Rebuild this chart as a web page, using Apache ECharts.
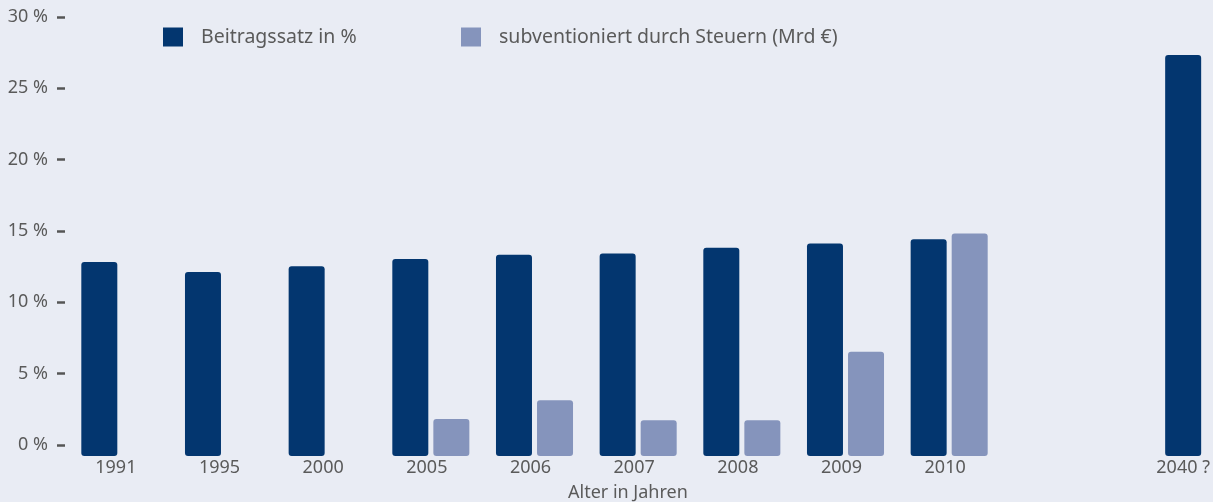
<!DOCTYPE html>
<html>
<head>
<meta charset="utf-8">
<script src="https://cdn.jsdelivr.net/npm/echarts@6/dist/echarts.min.js"></script>
<style>
  html, body { margin: 0; padding: 0; background: #e9ecf4; }
  #chart { width: 1213px; height: 502px; }
</style>
</head>
<body>
<div id="chart"></div>
<script>
// Daten
const categories = ['1991', '1995', '2000', '2005', '2006', '2007', '2008', '2009', '2010']
const beitragssatz = [13.6, 12.9, 13.3, 13.8, 14.1, 14.2, 14.6, 14.9, 15.2]
const subventioniert = [null, null, null, 2.6, 3.9, 2.5, 2.5, 7.3, 15.6]
const categories2040 = ['2040 ?']
const beitragssatz2040 = [28.1]
const yTicks = [0, 5, 10, 15, 20, 25, 30]

const dark = '#03366f'
const light = '#8594bc'
const textColor = '#5a5a5a'
const font = '"Noto Sans", sans-serif'

const myChart = echarts.init(document.getElementById('chart'))

const legendStyle = {
  top: 27,
  padding: 0,
  itemWidth: 20,
  itemHeight: 19,
  icon: 'rect',
  textStyle: { color: textColor, fontSize: 19.5, padding: [0, 0, 0, 13] }
}

const option = {
  backgroundColor: '#e9ecf4',
  textStyle: { fontFamily: font },
  title: {
    text: 'Alter in Jahren',
    left: 568,
    top: 484,
    padding: 0,
    textStyle: { color: textColor, fontSize: 18, fontWeight: 'normal', fontFamily: font }
  },
  legend: [
    Object.assign({ data: ['Beitragssatz in %'], left: 163 }, legendStyle),
    Object.assign({ data: ['subventioniert durch Steuern (Mrd €)'], left: 461 }, legendStyle)
  ],
  grid: [
    { left: 68, top: 17, width: 933, height: 428 },
    { left: 1160, top: 17, width: 50, height: 428 }
  ],
  xAxis: [{
    type: 'category',
    gridIndex: 0,
    data: categories,
    axisLine: { show: false },
    axisTick: { show: false },
    axisLabel: { color: textColor, fontSize: 18, margin: 14, padding: [0, 8, 0, 0] }
  }, {
    type: 'category',
    gridIndex: 1,
    data: categories2040,
    axisLine: { show: false },
    axisTick: { show: false },
    axisLabel: { color: textColor, fontSize: 18, margin: 14 }
  }],
  yAxis: [{
    // sichtbare Skala
    type: 'value',
    gridIndex: 0,
    min: yTicks[0],
    max: yTicks[yTicks.length - 1],
    interval: 5,
    offset: 3,
    axisLine: { show: false },
    axisTick: { show: true, length: 8, lineStyle: { color: '#555', width: 2.5 } },
    axisLabel: { color: textColor, fontSize: 18, margin: 17, formatter: '{value} %' },
    splitLine: { show: false }
  }, {
    // Skala der Balken (Nullpunkt liegt etwas unter der 0 %-Marke)
    type: 'value',
    gridIndex: 0,
    min: 0.77,
    max: 30.77,
    show: false
  }, {
    type: 'value',
    gridIndex: 1,
    min: 0.77,
    max: 30.77,
    show: false
  }],
  series: [{
    name: 'Beitragssatz in %',
    type: 'bar',
    xAxisIndex: 0,
    yAxisIndex: 1,
    data: beitragssatz,
    barWidth: 36,
    barGap: '14%',
    clip: false,
    itemStyle: { color: dark, borderRadius: 3 }
  }, {
    name: 'subventioniert durch Steuern (Mrd €)',
    type: 'bar',
    xAxisIndex: 0,
    yAxisIndex: 1,
    data: subventioniert,
    barWidth: 36,
    barGap: '14%',
    clip: false,
    itemStyle: { color: light, borderRadius: 3 }
  }, {
    name: 'Beitragssatz in %',
    type: 'bar',
    xAxisIndex: 1,
    yAxisIndex: 2,
    data: beitragssatz2040,
    barWidth: 36,
    clip: false,
    itemStyle: { color: dark, borderRadius: 3 }
  }]
}

myChart.setOption(option)
window.addEventListener('resize', () => {
  myChart.resize()
})
</script>
</body>
</html>
